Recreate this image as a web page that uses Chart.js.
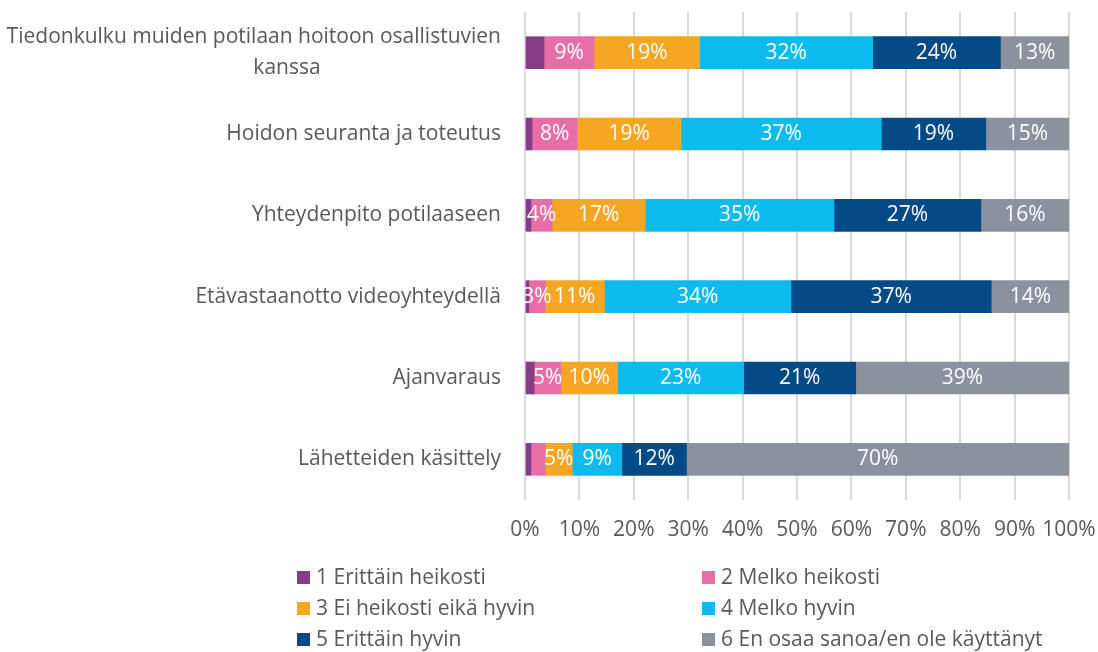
<!DOCTYPE html>
<html>
<head>
<meta charset="utf-8">
<script src="https://cdn.jsdelivr.net/npm/chart.js@4"></script>
<style>
  html, body { margin: 0; padding: 0; background: #fff; }
  #wrap { width: 1098px; height: 652px; }
</style>
</head>
<body>
<div id="wrap"><canvas id="chart" width="1098" height="652"></canvas></div>
<script>
// categories (y axis), top to bottom
const categories = [
    ['Tiedonkulku muiden potilaan hoitoon osallistuvien', 'kanssa'],
    'Hoidon seuranta ja toteutus',
    'Yhteydenpito potilaaseen',
    'Etävastaanotto videoyhteydellä',
    'Ajanvaraus',
    'Lähetteiden käsittely'
];

const seriesNames = [
    '1 Erittäin heikosti',
    '2 Melko heikosti',
    '3 Ei heikosti eikä hyvin',
    '4 Melko hyvin',
    '5 Erittäin hyvin',
    '6 En osaa sanoa/en ole käyttänyt'
];

// shares in percent, one array per answer option
const erittainHeikosti = [3.5, 1.3, 1.1, 0.7, 1.7, 1.1];
const melkoHeikosti    = [9.2, 8.3, 3.9, 3.0, 4.9, 2.6];
const eiHeikostiEikaHyvin = [19.4, 19.1, 17.1, 10.9, 10.4, 5.0];
const melkoHyvin       = [31.8, 36.8, 34.7, 34.3, 23.2, 9.1];
const erittainHyvin    = [23.5, 19.2, 27.0, 36.8, 20.6, 11.9];
const enOsaaSanoa      = [12.6, 15.3, 16.2, 14.4, 39.2, 70.3];

const xTicks = [0, 10, 20, 30, 40, 50, 60, 70, 80, 90, 100];

const colors = ['#873c88', '#e86ea8', '#f5a623', '#0dbbee', '#044a87', '#8b919e'];
const FONT = '"Open Sans", Lato, sans-serif';
const FONT_SIZE = 21;
const TEXT = '#595959';

const allSeries = [erittainHeikosti, melkoHeikosti, eiHeikostiEikaHyvin, melkoHyvin, erittainHyvin, enOsaaSanoa];

// category labels; wrapped lines are centred like Excel does it
const categoryLabels = {
    id: 'categoryLabels',
    afterDraw(chart) {
        const ctx = chart.ctx;
        const y = chart.scales.y;
        const right = chart.chartArea.left - 24;
        ctx.save();
        ctx.font = FONT_SIZE + 'px ' + FONT;
        ctx.fillStyle = TEXT;
        ctx.textBaseline = 'middle';
        categories.forEach((label, i) => {
            const cy = y.getPixelForValue(i);
            if (Array.isArray(label)) {
                const lh = 31;
                const top = cy - (label.length - 1) * lh / 2;
                const cx = right - 214;
                ctx.textAlign = 'center';
                label.forEach((l, k) => {
                    const w = ctx.measureText(l).width;
                    ctx.fillText(l, Math.min(cx, right - w / 2), top + k * lh);
                });
            } else {
                ctx.textAlign = 'right';
                ctx.fillText(label, right, cy);
            }
        });
        ctx.restore();
    }
};

// value labels inside the segments
const segmentLabels = {
    id: 'segmentLabels',
    afterDatasetsDraw(chart) {
        const ctx = chart.ctx;
        ctx.save();
        ctx.font = FONT_SIZE + 'px ' + FONT;
        ctx.fillStyle = '#ffffff';
        ctx.textAlign = 'center';
        ctx.textBaseline = 'middle';
        chart.data.datasets.forEach((ds, di) => {
            if (di === 0) return; // first option has no labels in the original
            const meta = chart.getDatasetMeta(di);
            meta.data.forEach((bar, i) => {
                const v = ds.data[i];
                if (v < 2.9) return;
                ctx.fillText(Math.round(v) + '%', (bar.x + bar.base) / 2, bar.y);
            });
        });
        ctx.restore();
    }
};

// two column legend under the chart
const gridLegend = {
    id: 'gridLegend',
    afterDraw(chart) {
        const ctx = chart.ctx;
        const colX = [297, 702];
        const rowY = [578, 609, 640];
        ctx.save();
        ctx.font = FONT_SIZE + 'px ' + FONT;
        ctx.textAlign = 'left';
        ctx.textBaseline = 'middle';
        seriesNames.forEach((name, i) => {
            const x = colX[i % 2];
            const y = rowY[Math.floor(i / 2)];
            ctx.fillStyle = colors[i];
            ctx.fillRect(x, y - 7, 13, 13);
            ctx.fillStyle = TEXT;
            ctx.fillText(name, x + 19, y);
        });
        ctx.restore();
    }
};

new Chart(document.getElementById('chart'), {
    type: 'bar',
    data: {
        labels: categories.map(c => Array.isArray(c) ? c.join(' ') : c),
        datasets: allSeries.map((data, i) => ({
            label: seriesNames[i],
            data: data,
            backgroundColor: colors[i],
            borderWidth: 0,
            barThickness: 32
        }))
    },
    options: {
        indexAxis: 'y',
        responsive: false,
        animation: false,
        layout: {
            padding: { left: 525, right: 29, top: 12, bottom: 102 }
        },
        plugins: {
            legend: { display: false },
            tooltip: { enabled: false },
            title: { display: false }
        },
        scales: {
            x: {
                stacked: true,
                min: 0,
                max: 100,
                afterBuildTicks: scale => {
                    scale.ticks = xTicks.map(v => ({ value: v }));
                },
                afterFit: scale => {
                    scale.height = 50;
                    scale.paddingLeft = 0;
                    scale.paddingRight = 0;
                },
                grid: {
                    color: '#d9d9d9',
                    lineWidth: 2,
                    drawTicks: false
                },
                border: { display: false },
                ticks: {
                    padding: 17,
                    color: TEXT,
                    autoSkip: false,
                    maxRotation: 0,
                    minRotation: 0,
                    font: { family: FONT, size: FONT_SIZE },
                    callback: v => v + '%'
                }
            },
            y: {
                stacked: true,
                afterFit: scale => { scale.width = 0; },
                grid: { display: false },
                border: { display: false },
                ticks: { display: false }
            }
        }
    },
    plugins: [categoryLabels, segmentLabels, gridLegend]
});
</script>
</body>
</html>
